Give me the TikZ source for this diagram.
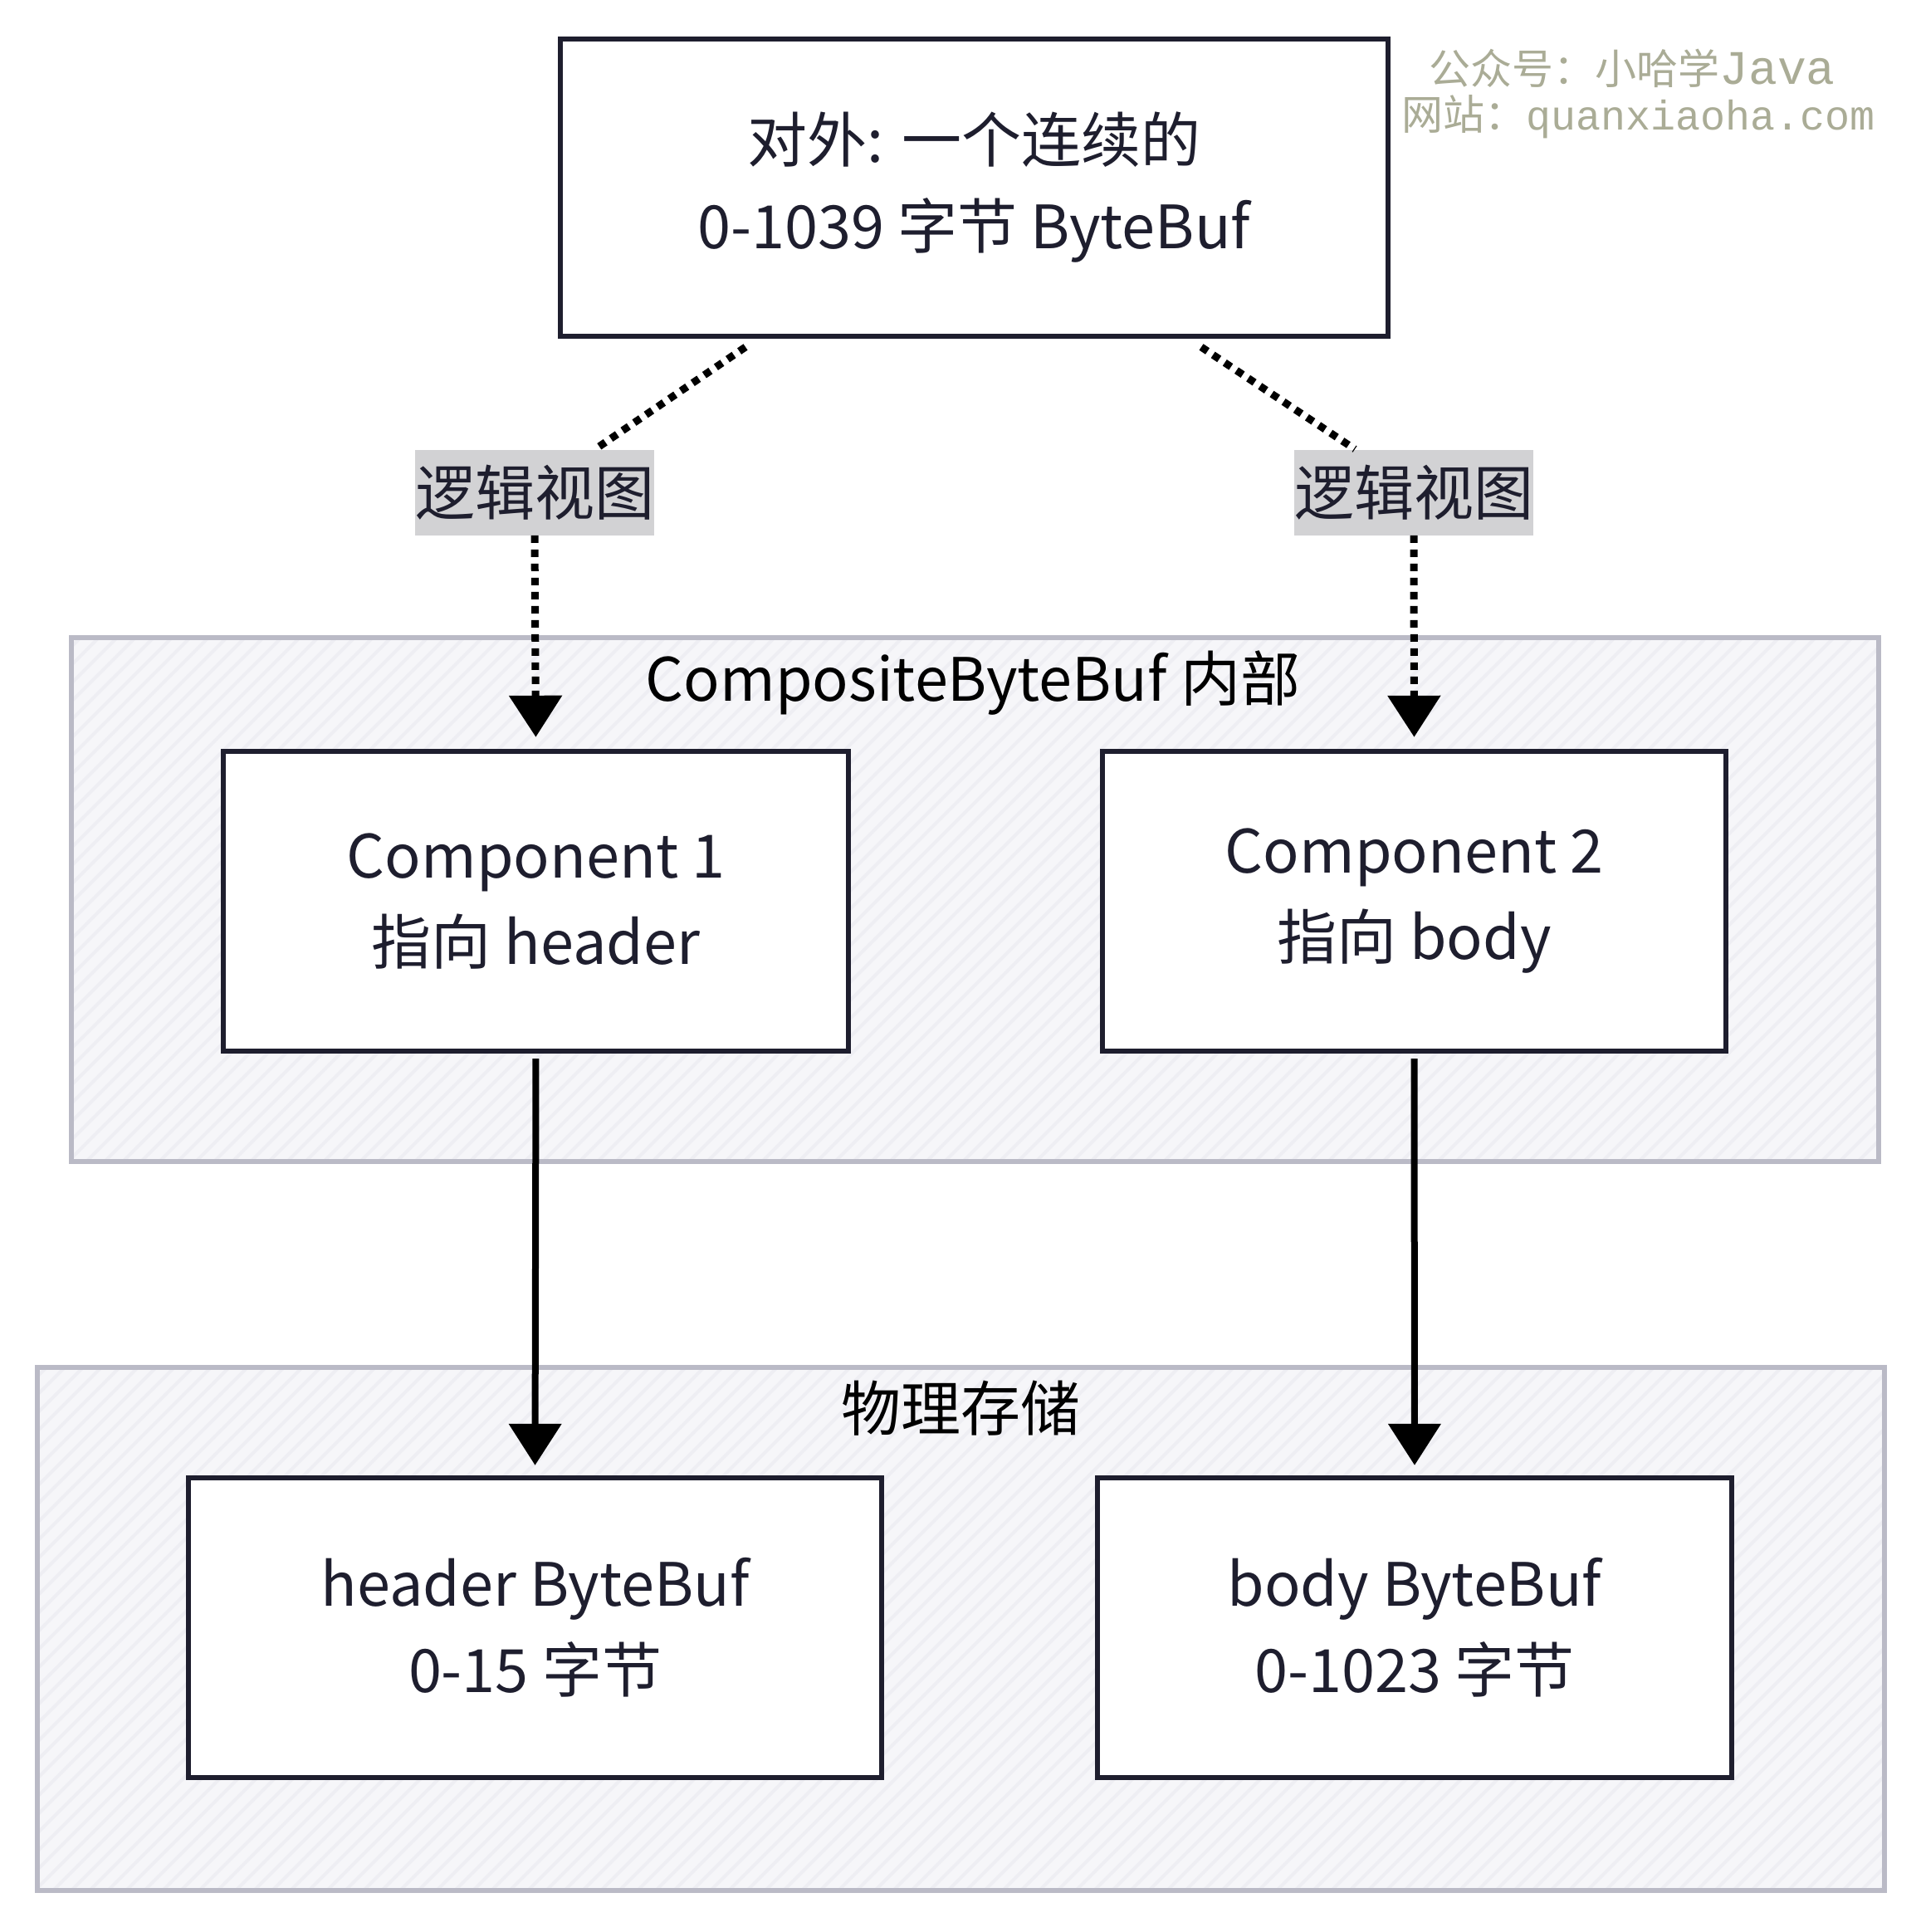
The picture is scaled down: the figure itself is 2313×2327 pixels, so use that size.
\documentclass[tikz,border=0pt]{standalone}
\usepackage{fontspec}
\setmainfont{Noto Sans CJK SC}
\newfontfamily\wmfont{Noto Sans CJK SC}
\newfontfamily\wmlatin{Liberation Mono}
\usetikzlibrary{arrows.meta,calc}
\definecolor{ink}{RGB}{30,30,46}
\definecolor{frame}{RGB}{186,186,198}
\definecolor{panel}{RGB}{246,246,249}
\definecolor{hatchc}{RGB}{238,238,243}
\definecolor{tag}{RGB}{210,210,212}
\definecolor{wm}{RGB}{170,172,150}
\tikzset{
  px/.style={x=0.5pt,y=-0.5pt},
  box/.style={draw=ink,line width=3.2pt,fill=white,align=center,text=ink,
    font=\fontsize{36}{52}\selectfont,inner sep=0pt},
  container/.style={draw=frame,line width=3pt},
  panelfill/.style={fill=panel},
  hatch/.style={draw=hatchc,line width=2pt},
  tagbox/.style={fill=tag,text=ink,inner sep=0pt,font=\fontsize{36}{40}\selectfont},
  grouplabel/.style={text=black,font=\fontsize{36}{40}\selectfont,inner sep=0pt},
  dotline/.style={line width=4.5pt,black,dash pattern=on 4.5pt off 4pt},
  solidarrow/.style={line width=4pt,black,-{Triangle[width=31pt,length=25pt]}},
  dotarrow/.style={dotline,-{Triangle[width=31pt,length=25pt]}},
}
\begin{document}
\begin{tikzpicture}[px]
\useasboundingbox (0,0) rectangle (2313,2327);
\fill[white] (0,0) rectangle (2313,2327);
% containers
\fill[panelfill] (86,768) rectangle (2263,1399);
\begin{scope}
\clip (86,768) rectangle (2263,1399);
\foreach \i in {-600,-578,...,2280} \draw[hatch] (\i,1399) -- ++(631,-631);
\end{scope}
\draw[container] (86,768) rectangle (2263,1399);
\fill[panelfill] (45,1647) rectangle (2270,2277);
\begin{scope}
\clip (45,1647) rectangle (2270,2277);
\foreach \i in {-640,-618,...,2280} \draw[hatch] (\i,2277) -- ++(630,-630);
\end{scope}
\draw[container] (45,1647) rectangle (2270,2277);
\node[grouplabel] (g1) at (1172,823) {CompositeByteBuf 内部};
\node[grouplabel] (g2) at (1157,1696) {物理存储};
% boxes
\node[box,minimum width=498.5pt,minimum height=179pt] (top) at (1173.5,226) {对外: 一个连续的\\0-1039 字节 ByteBuf};
\node[box,minimum width=376.5pt,minimum height=180.5pt] (c1) at (645.5,1085.5) {Component 1\\指向 header};
\node[box,minimum width=375.5pt,minimum height=180.5pt] (c2) at (1703.5,1085.5) {Component 2\\指向 body};
\node[box,minimum width=417.5pt,minimum height=180.5pt] (h) at (644.5,1960.5) {header ByteBuf\\0-15 字节};
\node[box,minimum width=382pt,minimum height=180.5pt] (b) at (1704,1960.5) {body ByteBuf\\0-1023 字节};
% tags
\node[tagbox,minimum width=139.5pt,minimum height=51.5pt] (t1) at (644,593) {逻辑视图};
\node[tagbox,minimum width=139.5pt,minimum height=51.5pt] (t2) at (1703,593) {逻辑视图};
% dotted connectors
\coordinate (d1s) at (898,418);
\coordinate (d1e) at (717,541);
\coordinate (d2s) at (1447,418);
\coordinate (d2e) at (1632,541);
\draw[dotline] (d1s) -- (d1e);
\draw[dotline] (d2s) -- (d2e);
\draw[dotarrow,shorten >=7pt] (t1.south) -- (c1.north);
\draw[dotarrow,shorten >=7pt] (t2.south) -- (c2.north);
% solid arrows
\draw[solidarrow,shorten <=3pt,shorten >=6pt] (c1.south) -- (h.north);
\draw[solidarrow,shorten <=3pt,shorten >=6pt] (c2.south) -- (b.north);
% watermark
\node[text=wm,font=\wmfont\fontsize{25}{30}\selectfont,inner sep=0pt,anchor=west] (wm1) at (1721,82) {公众号：小哈学{\wmlatin\fontsize{29}{30}\selectfont Java}};
\node[text=wm,font=\wmfont\fontsize{25}{30}\selectfont,inner sep=0pt,anchor=west] (wm2) at (1688,141) {网站：{\wmlatin quanxiaoha.com}};
\end{tikzpicture}
\end{document}
